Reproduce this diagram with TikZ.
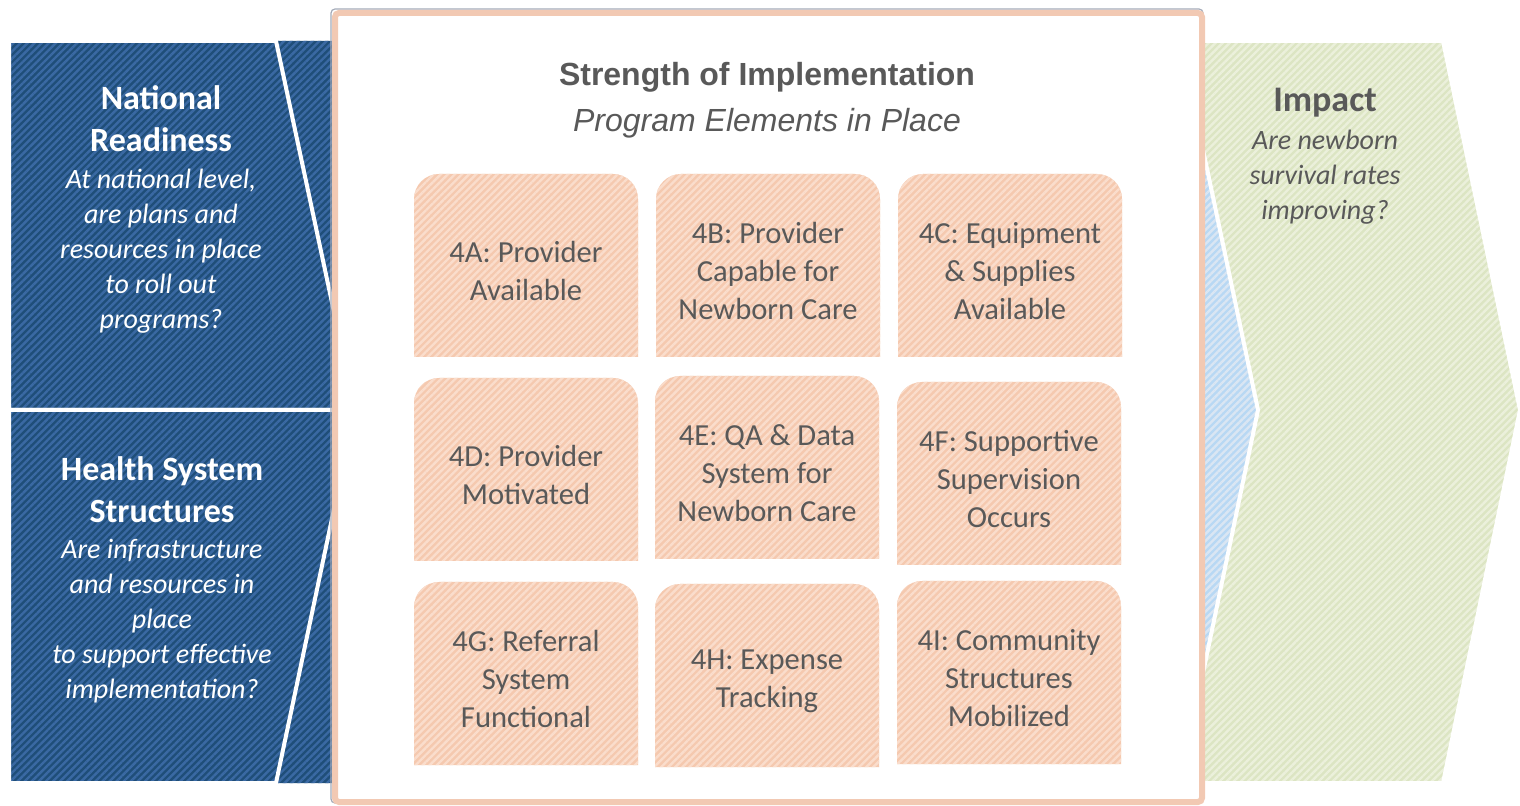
\documentclass[tikz,border=0pt]{standalone}
\usepackage{fontspec}
\setmainfont{Carlito}
\newfontfamily\arialfont{Liberation Sans}
\usetikzlibrary{patterns.meta}

\definecolor{navy}{HTML}{1F4E79}
\definecolor{navystripe}{HTML}{3A69A3}
\definecolor{skyblue}{HTML}{B8D8F4}
\definecolor{skystripe}{HTML}{DAE6F3}
\definecolor{sage}{HTML}{DCE5C3}
\definecolor{sagestripe}{HTML}{EBF0DB}
\definecolor{peach}{HTML}{F5C9AF}
\definecolor{peachstripe}{HTML}{FADDCC}
\definecolor{framepink}{HTML}{F2C9B3}
\definecolor{frameedge}{HTML}{A3AAB8}
\definecolor{textgray}{HTML}{595959}

\tikzset{
  stripes/.style={pattern={Lines[angle=45,distance=2.5pt,line width=1.2pt]}, pattern color=#1},
  navyshape/.style={preaction={fill=navy}, preaction={stripes=navystripe}, draw=white, line width=2pt},
  skyshape/.style={preaction={fill=skyblue}, preaction={stripes=skystripe}},
  sageshape/.style={preaction={fill=sage}, preaction={stripes=sagestripe}, draw=white, line width=2pt},
  elemtext/.style={text=textgray, align=center, font=\fontsize{15.3}{19}\selectfont},
  headtext/.style={align=center, font=\bfseries\fontsize{17}{21}\selectfont},
  asktext/.style={align=center, font=\itshape\fontsize{14}{17.5}\selectfont},
}

% element box: name, left x, top y, text
\newcommand\elembox[4]{%
  \path[fill=peach, postaction={stripes=peachstripe}]
    ({#2},{#3+183}) -- ({#2},{#3+25}) arc[start angle=180, end angle=270, radius=25]
    -- ({#2+199},{#3}) arc[start angle=270, end angle=360, radius=25]
    -- ({#2+224},{#3+183}) -- cycle;
  \node[elemtext] (#1) at ({#2+112},{#3+97}) {#4};
}

\begin{document}
\begin{tikzpicture}[x=0.5pt, y=-0.5pt]
\useasboundingbox (0,0) rectangle (1520,806);

% chevrons behind (middle one: dark on the left, light at its tip)
\path[navyshape, draw=none] (276,41) -- (1180,41) -- (1258,410) -- (1180,783) -- (276,783) -- (355,410) -- cycle;
\path[skyshape] (800,41) -- (1180,41) -- (1258,410) -- (1180,783) -- (800,783) -- cycle;
\path[sageshape] (1180,41) -- (1443,41) -- (1520,410) -- (1443,783) -- (1180,783) -- (1258,410) -- cycle;
\path[navyshape] (9,41) -- (276,41) -- (355,410) -- (9,410) -- cycle;
\path[navyshape] (9,410) -- (355,410) -- (276,783) -- (9,783) -- cycle;

% centre frame
\draw[frameedge, line width=0.6pt, rounded corners=2pt] (331,9) rectangle (1203,803);
\draw[framepink, line width=3pt, fill=white, rounded corners=2pt] (335,13) rectangle (1202,802);

\node[text=textgray, font=\arialfont\bfseries\fontsize{16}{19}\selectfont] (strength) at (767,77) {Strength of Implementation};
\node[text=textgray, font=\arialfont\itshape\fontsize{16}{19}\selectfont] (elements) at (767,123) {Program Elements in Place};

\elembox{4A}{414}{174}{4A: Provider\\Available}
\elembox{4B}{656}{174}{4B: Provider\\Capable for\\Newborn Care}
\elembox{4C}{898}{174}{4C: Equipment\\\& Supplies\\Available}
\elembox{4D}{414}{378}{4D: Provider\\Motivated}
\elembox{4E}{655}{376}{4E: QA \& Data\\System for\\Newborn Care}
\elembox{4F}{897}{382}{4F: Supportive\\Supervision\\Occurs}
\elembox{4G}{414}{582}{4G: Referral\\System\\Functional}
\elembox{4H}{655}{584}{4H: Expense\\Tracking}
\elembox{4I}{897}{581}{4I: Community\\Structures\\Mobilized}

% side texts
\node[headtext, text=white] (natl) at (161,119) {National\\Readiness};
\node[asktext, text=white] (natlask) at (161,251) {At national level,\\are plans and\\resources in place\\to roll out\\programs?};
\node[headtext, text=white] (health) at (162,490) {Health System\\Structures};
\node[asktext, text=white] (healthask) at (162,621) {Are infrastructure\\and resources in\\place\\to support effective\\implementation?};
\node[headtext, text=textgray, font=\bfseries\fontsize{18}{21}\selectfont] (impact) at (1325,103) {Impact};
\node[asktext, text=textgray] (impactask) at (1325,177) {Are newborn\\survival rates\\improving?};

\end{tikzpicture}
\end{document}
